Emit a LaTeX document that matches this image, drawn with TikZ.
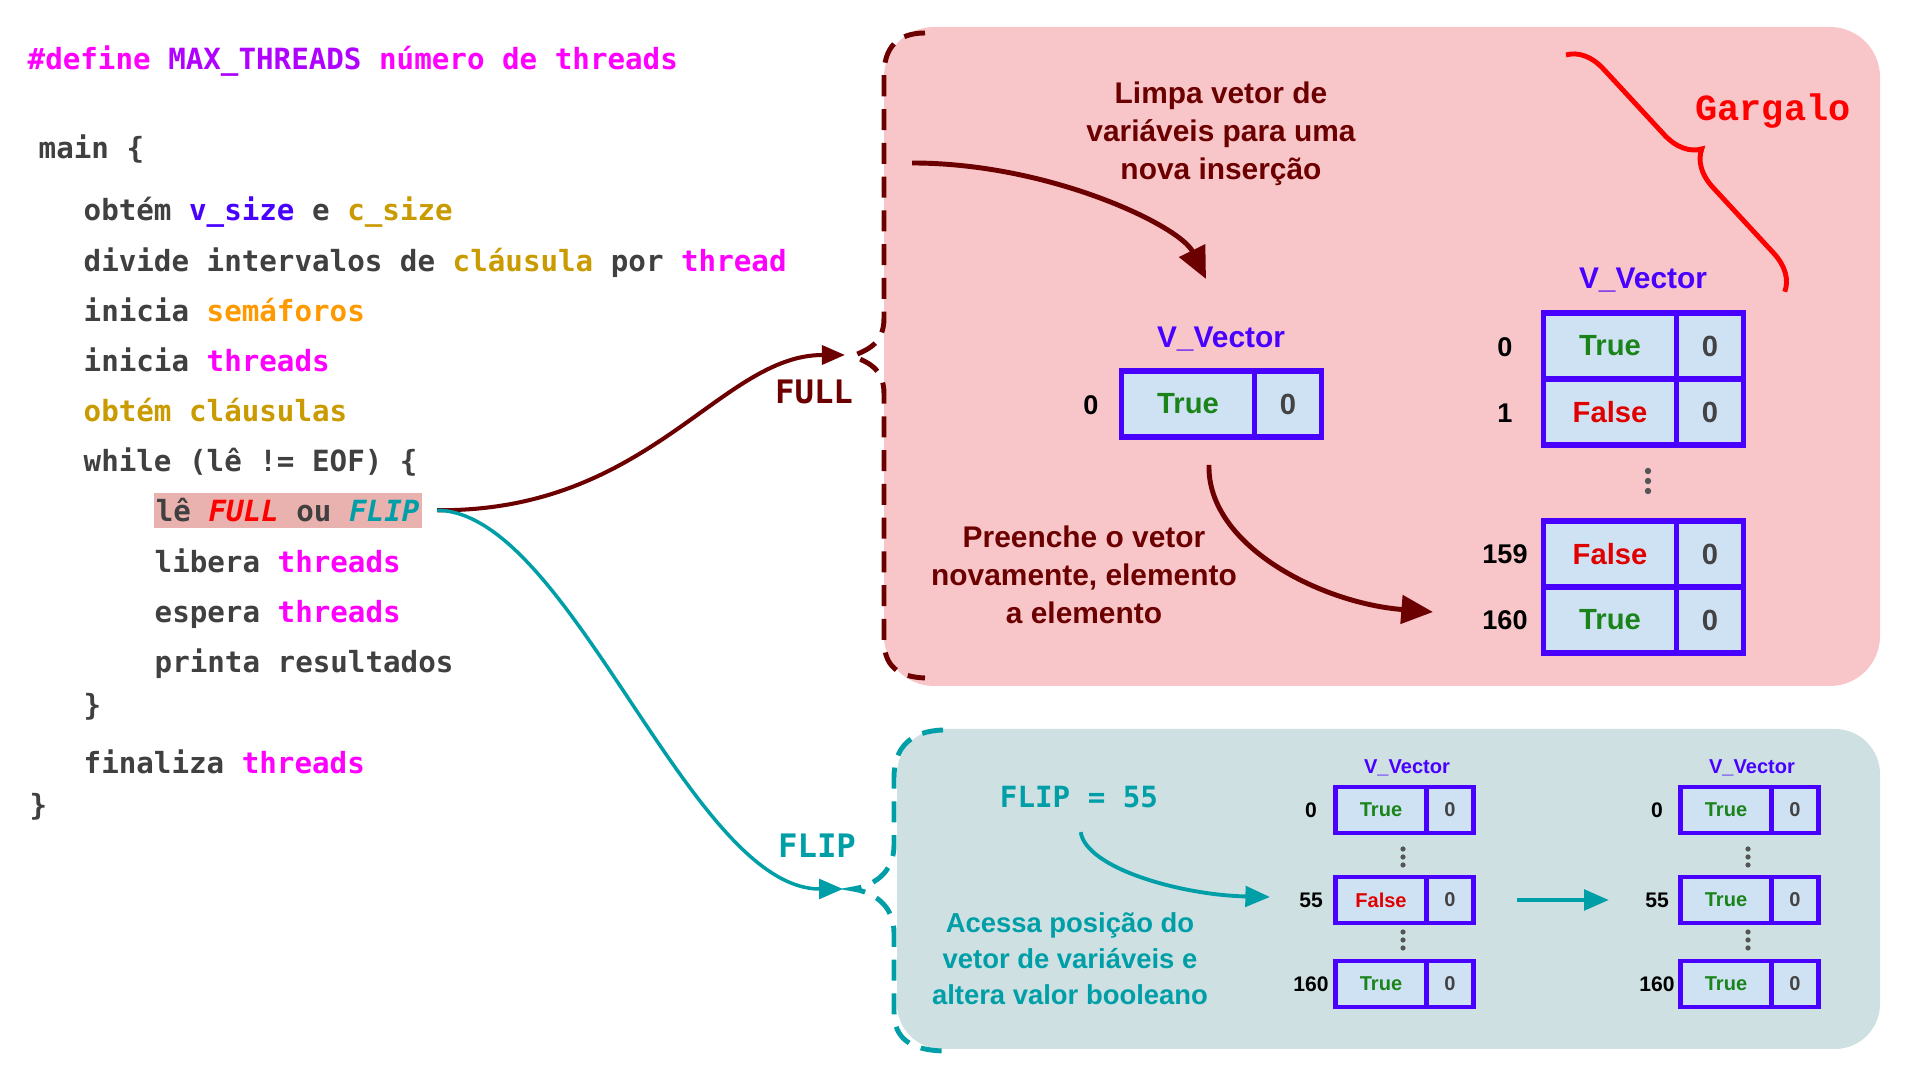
\documentclass[tikz,border=0pt]{standalone}
\usepackage{fontspec}
\setsansfont{Liberation Sans}
\newfontfamily\codefont{DejaVu Sans Mono}
\newfontfamily\gargfont{Liberation Mono}
\usetikzlibrary{arrows.meta,positioning,decorations.pathreplacing}

\definecolor{codegray}{RGB}{64,64,64}
\definecolor{mag}{RGB}{255,0,255}
\definecolor{purp}{RGB}{176,0,255}
\definecolor{vblue}{RGB}{72,0,255}
\definecolor{gold}{RGB}{201,155,0}
\definecolor{orng}{RGB}{255,153,0}
\definecolor{tealc}{RGB}{0,159,168}
\definecolor{dred}{RGB}{108,0,0}
\definecolor{pinkbg}{RGB}{248,198,201}
\definecolor{bluebg}{RGB}{206,224,226}
\definecolor{cellbg}{RGB}{207,226,243}
\definecolor{tgreen}{RGB}{26,132,26}
\definecolor{fred}{RGB}{224,0,0}
\definecolor{zgray}{RGB}{67,67,67}
\definecolor{hlbg}{RGB}{234,178,174}
\definecolor{dotgray}{RGB}{85,85,85}

\begin{document}
\begin{tikzpicture}[x=0.01cm, y=-0.01cm,
    code/.style={anchor=mid west, inner sep=0pt, text=codegray,
        font=\codefont\bfseries\fontsize{8.3pt}{10pt}\selectfont},
    vval/.style={draw=vblue, line width=1.5pt, fill=cellbg, outer sep=0pt,
        minimum width=1.33cm, minimum height=0.66cm, inner sep=0pt,
        font=\sffamily\bfseries\fontsize{8.3pt}{10pt}\selectfont},
    vflag/.style={vval, minimum width=0.67cm, text=zgray},
    sval/.style={draw=vblue, line width=1.3pt, fill=cellbg, outer sep=0pt,
        minimum width=0.91cm, minimum height=0.46cm, inner sep=0pt,
        font=\sffamily\bfseries\fontsize{5.7pt}{7pt}\selectfont},
    sflag/.style={sval, minimum width=0.47cm, text=zgray},
    idx/.style={font=\sffamily\bfseries\fontsize{7.7pt}{9pt}\selectfont},
    sidx/.style={font=\sffamily\bfseries\fontsize{6pt}{7pt}\selectfont},
    vname/.style={text=vblue, font=\sffamily\bfseries\fontsize{8.5pt}{10pt}\selectfont},
    svname/.style={text=vblue, font=\sffamily\bfseries\fontsize{5.7pt}{7pt}\selectfont},
    rtext/.style={align=center, text=dred, font=\sffamily\bfseries\fontsize{8.5pt}{10.8pt}\selectfont},
    ttext/.style={align=center, text=tealc, font=\sffamily\bfseries\fontsize{7.8pt}{10.2pt}\selectfont},
    bracefull/.style={dred, line width=1.4pt, dash pattern=on 6pt off 3.6pt},
    braceflip/.style={tealc, line width=1.4pt, dash pattern=on 6pt off 3.6pt},
    fullarrow/.style={dred, line width=1.15pt, -{Triangle[length=6.6pt,width=5.4pt]}},
    fliparrow/.style={tealc, line width=1pt, -{Triangle[length=6.8pt,width=5.6pt]}},
    redarrow/.style={dred, line width=1.4pt, -{Triangle[length=9pt,width=8pt]}},
    tealarrow/.style={tealc, line width=1.1pt, -{Triangle[length=7pt,width=5.8pt]}}
]
\useasboundingbox (0,0) rectangle (1920,1080);

\fill[pinkbg, rounded corners=0.5cm] (884,27) rectangle (1880,686);
\fill[bluebg, rounded corners=0.45cm] (897,729) rectangle (1880,1049);

\node[code] (define) at (27,62) {\textcolor{mag}{\#define} \textcolor{purp}{MAX\_THREADS} \textcolor{mag}{número de threads}};
\node[code] (mainl) at (38,151) {main \{};
\node[code] (obtem) at (83,213) {obtém \textcolor{vblue}{v\_size} e \textcolor{gold}{c\_size}};
\node[code] (divide) at (83,264) {divide intervalos de \textcolor{gold}{cláusula} por \textcolor{mag}{thread}};
\node[code] (semaf) at (83,314) {inicia \textcolor{orng}{semáforos}};
\node[code] (inithr) at (83,364) {inicia \textcolor{mag}{threads}};
\node[code] (clausulas) at (83,414) {\textcolor{gold}{obtém cláusulas}};
\node[code] (whilel) at (83,464) {while (lê != EOF) \{};
\node[code, fill=hlbg, inner xsep=0.6pt, minimum height=0.35cm] (lefl) at (153,514) {lê \textcolor{red}{\itshape FULL} ou \textcolor{tealc}{\itshape FLIP}};
\node[code] (libera) at (154,565) {libera \textcolor{mag}{threads}};
\node[code] (espera) at (154,615) {espera \textcolor{mag}{threads}};
\node[code] (printa) at (154,665) {printa resultados};
\node[code] (closew) at (83,708) {\}};
\node[code] (finaliza) at (83,766) {finaliza \textcolor{mag}{threads}};
\node[code] (closem) at (29,808) {\}};

\draw[bracefull] (925,33) .. controls (898,33) and (884,47) .. (884,75) -- (884,318)
    .. controls (884,345) and (866,350) .. (853,356) .. controls (866,362) and (884,367) .. (884,394)
    -- (884,640) .. controls (884,666) and (898,677) .. (925,678);
\draw[braceflip] (943,730) .. controls (910,731) and (894,748) .. (894,778) -- (894,845)
    .. controls (894,874) and (872,886) .. (853,889) .. controls (872,892) and (894,904) .. (894,933)
    -- (894,1012) .. controls (894,1038) and (910,1050) .. (943,1051);

\coordinate (fulltip) at (845,355);
\coordinate (fliptip) at (843,889);
\draw[fullarrow, shorten <=0.15cm] (lefl.east) .. controls (650,512) and (720,355) .. (fulltip);
\draw[fliparrow, shorten <=0.15cm] (lefl.east) .. controls (570,512) and (690,889) .. (fliptip);
\node[text=dred, font=\codefont\bfseries\fontsize{9.2pt}{11pt}\selectfont] (fulll) at (814,392) {FULL};
\node[text=tealc, font=\codefont\bfseries\fontsize{9.2pt}{11pt}\selectfont] (flipl) at (817,846) {FLIP};

\node[rtext] (limpa) at (1221,134) {Limpa vetor de\\variáveis para uma\\nova inserção};
\coordinate (limpastart) at (912,163);
\coordinate (limpaend) at (1206,279);
\draw[redarrow] (limpastart) .. controls (1050,163) and (1180,226) .. (limpaend);

\node[vname] (vvec) at (1221,339) {V\_Vector};
\node[vval, text=tgreen] (v0) at (1188,404) {True};
\node[vflag, right=0pt of v0] (v0f) {0};
\node[idx] (iv0) at (1091,405) {0};

\coordinate (preenchestart) at (1209,465);
\coordinate (preencheend) at (1433,612);
\draw[redarrow] (preenchestart) .. controls (1207,545) and (1320,603) .. (preencheend);
\node[rtext] (preenche) at (1084,575) {Preenche o vetor\\novamente, elemento\\a elemento};

\node[vname] (rvec) at (1643,280) {V\_Vector};
\node[vval, text=tgreen] (r0) at (1610,346) {True};
\node[vflag, right=0pt of r0] (r0f) {0};
\node[vval, text=fred, below=0pt of r0] (r1) {False};
\node[vflag, right=0pt of r1] (r1f) {0};
\node[vval, text=fred] (r159) at (1610,554) {False};
\node[vflag, right=0pt of r159] (r159f) {0};
\node[vval, text=tgreen, below=0pt of r159] (r160) {True};
\node[vflag, right=0pt of r160] (r160f) {0};
\node[idx] (ir0) at (1505,347) {0};
\node[idx] (ir1) at (1505,413) {1};
\node[idx] (ir159) at (1505,554) {159};
\node[idx] (ir160) at (1505,620) {160};
\foreach \d in {-10,0,10}
    \fill[dotgray] (1648,481+\d) circle (0.032cm);

\node[text=red, font=\gargfont\bfseries\fontsize{10.5pt}{12pt}\selectfont] (gargalo) at (1773,111) {Gargalo};
\draw[red, line width=1.4pt, decorate, decoration={brace, amplitude=0.36cm}] (1566,55) -- (1785,292);

\node[text=tealc, font=\codefont\bfseries\fontsize{8.3pt}{10pt}\selectfont] (flipval) at (1079,797) {FLIP = 55};
\node[ttext] (acessa) at (1070,959) {Acessa posição do\\vetor de variáveis e\\altera valor booleano};

\node[svname] (avec) at (1407,768) {V\_Vector};
\node[sval, text=tgreen] (a0) at (1381,810) {True};
\node[sflag, right=0pt of a0] (a0f) {0};
\node[sval, text=fred] (a55) at (1381,900) {False};
\node[sflag, right=0pt of a55] (a55f) {0};
\node[sval, text=tgreen] (a160) at (1381,984) {True};
\node[sflag, right=0pt of a160] (a160f) {0};
\node[sidx] (ia0) at (1311,810) {0};
\node[sidx] (ia55) at (1311,900) {55};
\node[sidx] (ia160) at (1311,984) {160};

\node[svname] (bvec) at (1752,768) {V\_Vector};
\node[sval, text=tgreen] (b0) at (1726,810) {True};
\node[sflag, right=0pt of b0] (b0f) {0};
\node[sval, text=tgreen] (b55) at (1726,900) {True};
\node[sflag, right=0pt of b55] (b55f) {0};
\node[sval, text=tgreen] (b160) at (1726,984) {True};
\node[sflag, right=0pt of b160] (b160f) {0};
\node[sidx] (ib0) at (1657,810) {0};
\node[sidx] (ib55) at (1657,900) {55};
\node[sidx] (ib160) at (1657,984) {160};

\foreach \y in {857,940} {
    \foreach \d in {-8,0,8} {
        \fill[dotgray] (1403,\y+\d) circle (0.026cm);
        \fill[dotgray] (1748,\y+\d) circle (0.026cm);
    }
}

\coordinate (acessaend) at (1270,897);
\draw[tealarrow, shorten <=0.12cm] (flipval.south) .. controls (1086,868) and (1180,895) .. (acessaend);
\draw[tealarrow, shorten <=0.43cm, shorten >=0.24cm] (a55f.east) -- (ib55.west);
\end{tikzpicture}
\end{document}
